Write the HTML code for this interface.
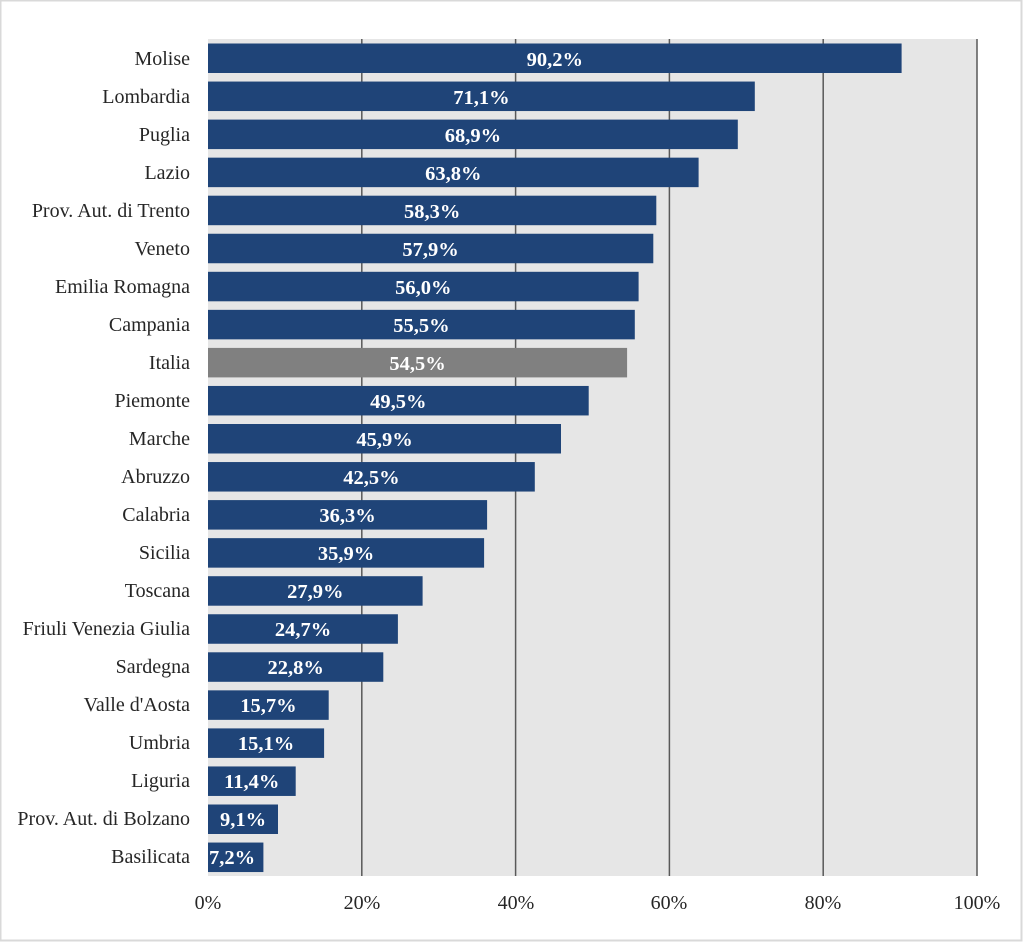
<!DOCTYPE html>
<html><head><meta charset="utf-8"><style>
html,body{margin:0;padding:0;background:#fff}
body{width:1024px;height:943px;overflow:hidden}
svg{display:block}
</style></head><body>
<svg width="1024" height="943" xmlns="http://www.w3.org/2000/svg" font-family="Liberation Serif, serif">
<rect x="0.5" y="0.5" width="1021" height="940" fill="#fff" stroke="#d9d9d9" stroke-width="2"/>
<rect x="208" y="39" width="769" height="837" fill="#e6e6e6"/>
<g stroke="#595959" stroke-width="1.5">
<line x1="361.8" y1="39" x2="361.8" y2="876"/>
<line x1="515.6" y1="39" x2="515.6" y2="876"/>
<line x1="669.4" y1="39" x2="669.4" y2="876"/>
<line x1="823.2" y1="39" x2="823.2" y2="876"/>
<line x1="977" y1="39" x2="977" y2="876"/>
</g>
<g fill="#1f4478">
<rect x="208" y="43.5" width="693.6" height="29.5"/>
<rect x="208" y="81.55" width="546.8" height="29.5"/>
<rect x="208" y="119.6" width="529.8" height="29.5"/>
<rect x="208" y="157.65" width="490.6" height="29.5"/>
<rect x="208" y="195.7" width="448.3" height="29.5"/>
<rect x="208" y="233.75" width="445.3" height="29.5"/>
<rect x="208" y="271.8" width="430.6" height="29.5"/>
<rect x="208" y="309.85" width="426.8" height="29.5"/>
<rect x="208" y="347.9" width="419.1" height="29.5" fill="#808080"/>
<rect x="208" y="385.95" width="380.7" height="29.5"/>
<rect x="208" y="424" width="353.0" height="29.5"/>
<rect x="208" y="462.05" width="326.8" height="29.5"/>
<rect x="208" y="500.1" width="279.1" height="29.5"/>
<rect x="208" y="538.15" width="276.1" height="29.5"/>
<rect x="208" y="576.2" width="214.6" height="29.5"/>
<rect x="208" y="614.25" width="189.9" height="29.5"/>
<rect x="208" y="652.3" width="175.3" height="29.5"/>
<rect x="208" y="690.35" width="120.7" height="29.5"/>
<rect x="208" y="728.4" width="116.1" height="29.5"/>
<rect x="208" y="766.45" width="87.7" height="29.5"/>
<rect x="208" y="804.5" width="70.0" height="29.5"/>
<rect x="208" y="842.55" width="55.4" height="29.5"/>
</g>
<g font-size="20" fill="#262626" text-anchor="end">
<text x="190" y="65">Molise</text>
<text x="190" y="103">Lombardia</text>
<text x="190" y="141">Puglia</text>
<text x="190" y="179">Lazio</text>
<text x="190" y="217">Prov. Aut. di Trento</text>
<text x="190" y="255">Veneto</text>
<text x="190" y="293">Emilia Romagna</text>
<text x="190" y="331">Campania</text>
<text x="190" y="369">Italia</text>
<text x="190" y="407">Piemonte</text>
<text x="190" y="445">Marche</text>
<text x="190" y="483">Abruzzo</text>
<text x="190" y="521">Calabria</text>
<text x="190" y="559">Sicilia</text>
<text x="190" y="597">Toscana</text>
<text x="190" y="635">Friuli Venezia Giulia</text>
<text x="190" y="673">Sardegna</text>
<text x="190" y="711">Valle d'Aosta</text>
<text x="190" y="749">Umbria</text>
<text x="190" y="787">Liguria</text>
<text x="190" y="825">Prov. Aut. di Bolzano</text>
<text x="190" y="863">Basilicata</text>
</g>
<g font-size="20.5" font-weight="bold" fill="#fff" text-anchor="middle">
<text x="554.8" y="66">90,2%</text>
<text x="481.4" y="104">71,1%</text>
<text x="472.9" y="142">68,9%</text>
<text x="453.3" y="180">63,8%</text>
<text x="432.2" y="218">58,3%</text>
<text x="430.6" y="256">57,9%</text>
<text x="423.3" y="294">56,0%</text>
<text x="421.4" y="332">55,5%</text>
<text x="417.6" y="370">54,5%</text>
<text x="398.3" y="408">49,5%</text>
<text x="384.5" y="446">45,9%</text>
<text x="371.4" y="484">42,5%</text>
<text x="347.6" y="522">36,3%</text>
<text x="346.0" y="560">35,9%</text>
<text x="315.3" y="598">27,9%</text>
<text x="303.0" y="636">24,7%</text>
<text x="295.7" y="674">22,8%</text>
<text x="268.4" y="712">15,7%</text>
<text x="266.1" y="750">15,1%</text>
<text x="251.8" y="788">11,4%</text>
<text x="243.0" y="826">9,1%</text>
<text x="209" y="864" text-anchor="start">7,2%</text>
</g>
<g font-size="20" fill="#262626" text-anchor="middle">
<text x="208" y="909">0%</text><text x="362" y="909">20%</text><text x="516" y="909">40%</text><text x="669" y="909">60%</text><text x="823" y="909">80%</text><text x="977" y="909">100%</text>
</g>
</svg>
</body></html>
